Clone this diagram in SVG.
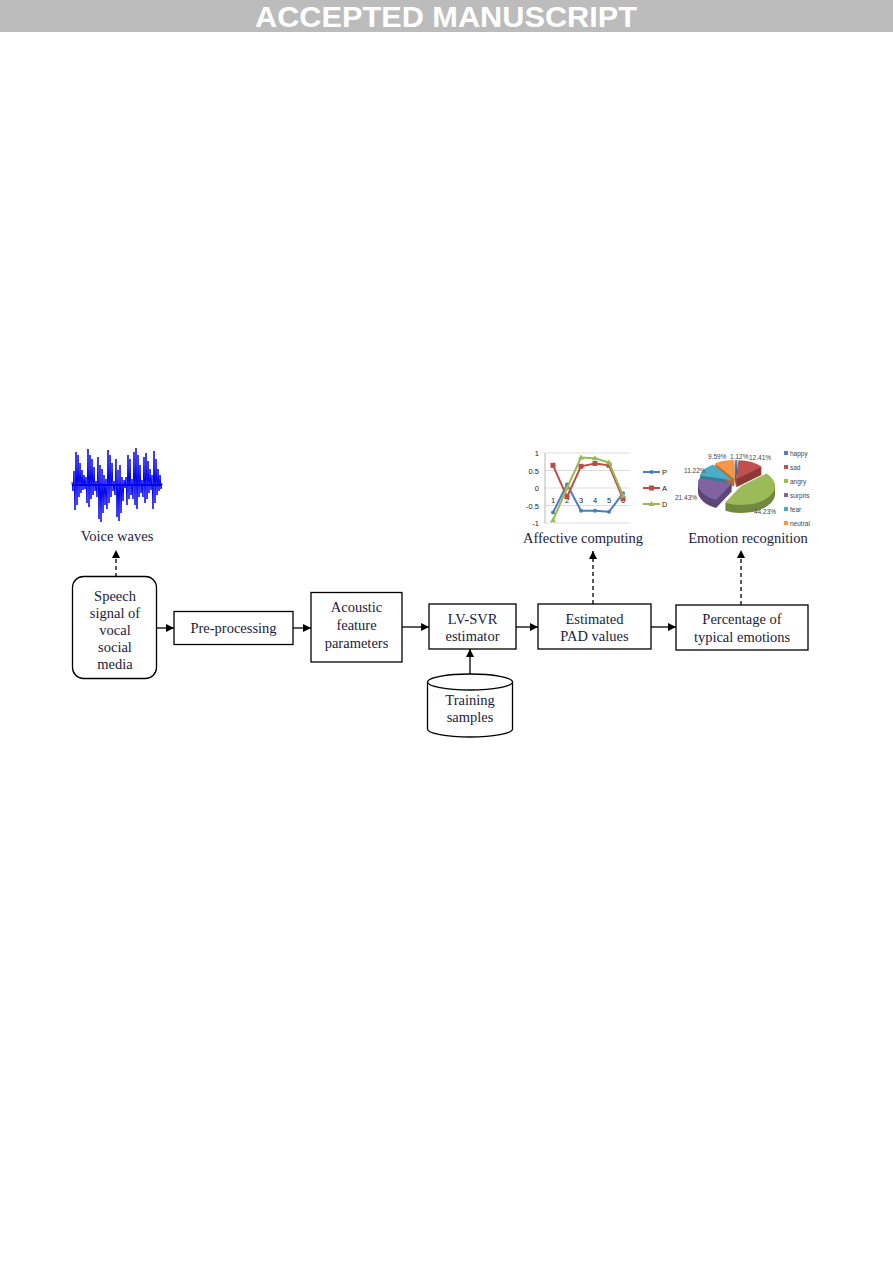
<svg xmlns="http://www.w3.org/2000/svg" xmlns:xlink="http://www.w3.org/1999/xlink" width="893" height="1263" viewBox="0 0 893 1263">
<style>
.t{font-family:"Liberation Serif","Times New Roman",serif;font-size:14.5px;fill:#1c1c3c;text-anchor:middle}
.box{fill:#fff;stroke:#000;stroke-width:1.3}
.c{stroke:#000;stroke-width:1.3;fill:none}
.d{stroke:#000;stroke-width:1.3;fill:none;stroke-dasharray:4,3}
.ax{font-family:"Liberation Sans",Arial,sans-serif;font-size:7.5px;fill:#222}
.pl{font-family:"Liberation Sans",Arial,sans-serif;font-size:6.5px;fill:#444}
.grid{stroke:#cfcfcf;stroke-width:0.7}
</style>
<defs>
<marker id="ah" viewBox="0 0 10 10" refX="10" refY="5" markerWidth="8" markerHeight="8" markerUnits="userSpaceOnUse" orient="auto">
<path d="M0,0 L10,5 L0,10 z" fill="#000"/>
</marker>
<path id="sHappy" d="M735.1,475 L735.1,456 A34,19 0 0 1 737.47,456.05 Z"/>
<path id="sSad" d="M736.3,475.3 L738.67,456.35 A34,19 0 0 1 761.84,462.76 Z"/>
<path id="sAngry" d="M741,482 L766.54,469.46 A34,19 0 0 1 725.04,498.78 Z"/>
<path id="sSurp" d="M732,479.3 L716.04,496.08 A34,19 0 0 1 699.16,474.38 Z"/>
<path id="sFear" d="M732.5,476.3 L699.66,471.38 A34,19 0 0 1 713.29,460.62 Z"/>
<path id="sNeut" d="M734.1,475.1 L714.89,459.42 A34,19 0 0 1 734.1,456.1 Z"/>
</defs>

<rect x="0" y="0" width="893" height="32" fill="#bcbcbc"/>
<text x="446" y="27" font-family="Liberation Sans, Arial, sans-serif" font-weight="bold" font-size="29" fill="#fff" text-anchor="middle" textLength="382" lengthAdjust="spacingAndGlyphs">ACCEPTED MANUSCRIPT</text>

<g id="voice-waves">
<line x1="72" y1="485" x2="162" y2="485" stroke="#0000ee" stroke-width="2"/>
<polyline fill="none" stroke="#0000ee" stroke-width="1" points="72,482 73,491 74,471 75,510 76,452 77,505 78,455 79,497 80,463 81,493 82,470 83,490 84,475 85,489 86,477 87,503 88,449 89,507 90,455 91,499 92,459 93,495 94,467 95,491 96,481 97,497 98,457 99,519 100,465 101,522 102,469 103,513 104,475 105,505 106,479 107,509 108,450 109,503 110,455 111,497 112,463 113,491 114,481 115,495 116,459 117,517 118,470 119,521 120,465 121,513 122,477 123,501 124,480 125,488 126,477 127,505 128,455 129,499 130,459 131,495 132,479 133,499 134,452 135,505 136,448 137,509 138,455 139,497 140,465 141,493 142,480 143,497 144,457 145,503 146,453 147,499 148,461 149,493 150,469 151,490 152,475 153,509 154,451 155,503 156,459 157,495 158,469 159,491 160,475 161,489 162,483"/>
<text class="t" x="117" y="541">Voice waves</text>
</g>

<g id="affective-chart">
<line class="grid" x1="545" y1="453" x2="630" y2="453"/>
<line class="grid" x1="545" y1="470.5" x2="630" y2="470.5"/>
<line class="grid" x1="545" y1="488" x2="630" y2="488"/>
<line class="grid" x1="545" y1="505.5" x2="630" y2="505.5"/>
<line class="grid" x1="545" y1="523" x2="630" y2="523"/>
<line x1="545" y1="453" x2="545" y2="523" stroke="#999" stroke-width="0.7"/>
<text class="ax" x="539" y="456" text-anchor="end">1</text>
<text class="ax" x="539" y="473.5" text-anchor="end">0.5</text>
<text class="ax" x="539" y="491" text-anchor="end">0</text>
<text class="ax" x="539" y="508.5" text-anchor="end">-0.5</text>
<text class="ax" x="539" y="526" text-anchor="end">-1</text>
<text class="ax" x="553" y="503" text-anchor="middle">1</text>
<text class="ax" x="567" y="503" text-anchor="middle">2</text>
<text class="ax" x="581" y="503" text-anchor="middle">3</text>
<text class="ax" x="595" y="503" text-anchor="middle">4</text>
<text class="ax" x="609" y="503" text-anchor="middle">5</text>
<text class="ax" x="623" y="503" text-anchor="middle">6</text>
<polyline fill="none" stroke="#4a7ebb" stroke-width="2" points="553,512.5 567,484.5 581,510.8 595,510.8 609,511.8 623,493.3"/>
<g fill="#4a7ebb"><circle cx="553" cy="512.5" r="2"/><circle cx="567" cy="484.5" r="2"/><circle cx="581" cy="510.8" r="2"/><circle cx="595" cy="510.8" r="2"/><circle cx="609" cy="511.8" r="2"/><circle cx="623" cy="493.3" r="2"/></g>
<polyline fill="none" stroke="#be4b48" stroke-width="2" points="553,465.3 567,496.8 581,466.3 595,463.5 609,465.3 623,498.5"/>
<g fill="#be4b48"><rect x="550.5" y="462.8" width="5" height="5"/><rect x="564.5" y="494.3" width="5" height="5"/><rect x="578.5" y="463.8" width="5" height="5"/><rect x="592.5" y="461" width="5" height="5"/><rect x="606.5" y="462.8" width="5" height="5"/><rect x="620.5" y="496" width="5" height="5"/></g>
<polyline fill="none" stroke="#98b954" stroke-width="2" points="553,520.2 567,488 581,457.6 595,458.3 609,462.5 623,495.7"/>
<g fill="#98b954"><path d="M553,517.2 l3,5 h-6z"/><path d="M567,485 l3,5 h-6z"/><path d="M581,454.6 l3,5 h-6z"/><path d="M595,455.3 l3,5 h-6z"/><path d="M609,459.5 l3,5 h-6z"/><path d="M623,492.7 l3,5 h-6z"/></g>
<line x1="643" y1="472" x2="660" y2="472" stroke="#4a7ebb" stroke-width="2"/><circle cx="651.5" cy="472" r="2" fill="#4a7ebb"/>
<text class="ax" x="662" y="475">P</text>
<line x1="643" y1="488" x2="660" y2="488" stroke="#be4b48" stroke-width="2"/><rect x="649" y="485.5" width="5" height="5" fill="#be4b48"/>
<text class="ax" x="662" y="491">A</text>
<line x1="643" y1="504" x2="660" y2="504" stroke="#98b954" stroke-width="2"/><path d="M651.5,501 l3,5 h-6z" fill="#98b954"/>
<text class="ax" x="662" y="507">D</text>
<text class="t" x="583" y="543">Affective computing</text>
</g>

<g id="emotion-pie">
<g transform="translate(0,4)">
<g fill="#385d8a"><use xlink:href="#sHappy" y="2"/><use xlink:href="#sHappy" y="4"/><use xlink:href="#sHappy" y="6"/><use xlink:href="#sHappy" y="8"/></g>
<g fill="#8c3836"><use xlink:href="#sSad" y="1"/><use xlink:href="#sSad" y="2"/><use xlink:href="#sSad" y="3"/><use xlink:href="#sSad" y="4"/><use xlink:href="#sSad" y="5"/><use xlink:href="#sSad" y="6"/><use xlink:href="#sSad" y="7"/><use xlink:href="#sSad" y="8"/></g>
<g fill="#357d91"><use xlink:href="#sFear" y="1"/><use xlink:href="#sFear" y="2"/><use xlink:href="#sFear" y="3"/><use xlink:href="#sFear" y="4"/><use xlink:href="#sFear" y="5"/><use xlink:href="#sFear" y="6"/><use xlink:href="#sFear" y="7"/><use xlink:href="#sFear" y="8"/></g>
<g fill="#b66d31"><use xlink:href="#sNeut" y="1"/><use xlink:href="#sNeut" y="2"/><use xlink:href="#sNeut" y="3"/><use xlink:href="#sNeut" y="4"/><use xlink:href="#sNeut" y="5"/><use xlink:href="#sNeut" y="6"/><use xlink:href="#sNeut" y="7"/><use xlink:href="#sNeut" y="8"/></g>
<g fill="#5c4776"><use xlink:href="#sSurp" y="1"/><use xlink:href="#sSurp" y="2"/><use xlink:href="#sSurp" y="3"/><use xlink:href="#sSurp" y="4"/><use xlink:href="#sSurp" y="5"/><use xlink:href="#sSurp" y="6"/><use xlink:href="#sSurp" y="7"/><use xlink:href="#sSurp" y="8"/></g>
<g fill="#71893f"><use xlink:href="#sAngry" y="1"/><use xlink:href="#sAngry" y="2"/><use xlink:href="#sAngry" y="3"/><use xlink:href="#sAngry" y="4"/><use xlink:href="#sAngry" y="5"/><use xlink:href="#sAngry" y="6"/><use xlink:href="#sAngry" y="7"/><use xlink:href="#sAngry" y="8"/></g>
<use xlink:href="#sHappy" fill="#4f81bd"/>
<use xlink:href="#sSad" fill="#c0504d"/>
<use xlink:href="#sFear" fill="#4bacc6"/>
<use xlink:href="#sNeut" fill="#f79646"/>
<use xlink:href="#sSurp" fill="#8064a2"/>
<use xlink:href="#sAngry" fill="#9bbb59"/>
</g>
<text class="pl" x="708" y="459">9.59%</text>
<text class="pl" x="730" y="459">1.12%</text>
<text class="pl" x="749" y="460">12.41%</text>
<text class="pl" x="684" y="473">11.22%</text>
<text class="pl" x="675" y="500">21.43%</text>
<text class="pl" x="754" y="514">44.23%</text>
<rect x="784" y="451" width="4" height="4" fill="#4f81bd"/><text class="pl" x="790" y="455.5">happy</text>
<rect x="784" y="465" width="4" height="4" fill="#c0504d"/><text class="pl" x="790" y="469.5">sad</text>
<rect x="784" y="479" width="4" height="4" fill="#9bbb59"/><text class="pl" x="790" y="483.5">angry</text>
<rect x="784" y="493" width="4" height="4" fill="#8064a2"/><text class="pl" x="790" y="497.5">surpris</text>
<rect x="784" y="507" width="4" height="4" fill="#4bacc6"/><text class="pl" x="790" y="511.5">fear</text>
<rect x="784" y="521" width="4" height="4" fill="#f79646"/><text class="pl" x="790" y="525.5">neutral</text>
<text class="t" x="748" y="543">Emotion recognition</text>
</g>

<g id="connectors">
<line class="d" x1="116" y1="577" x2="116" y2="550" marker-end="url(#ah)"/>
<line class="d" x1="593" y1="604" x2="593" y2="551" marker-end="url(#ah)"/>
<line class="d" x1="741" y1="605" x2="741" y2="550" marker-end="url(#ah)"/>
<line class="c" x1="157" y1="628" x2="174" y2="628" marker-end="url(#ah)"/>
<line class="c" x1="293" y1="628" x2="311" y2="628" marker-end="url(#ah)"/>
<line class="c" x1="402" y1="627" x2="429" y2="627" marker-end="url(#ah)"/>
<line class="c" x1="516" y1="627" x2="538" y2="627" marker-end="url(#ah)"/>
<line class="c" x1="651" y1="627" x2="676" y2="627" marker-end="url(#ah)"/>
<line class="c" x1="470" y1="674" x2="470" y2="649" marker-end="url(#ah)"/>
</g>

<g id="speech-signal">
<rect class="box" x="72.5" y="576.5" width="84" height="102" rx="11"/>
<text class="t" x="115" y="601">Speech</text>
<text class="t" x="115" y="618">signal of</text>
<text class="t" x="115" y="635">vocal</text>
<text class="t" x="115" y="652">social</text>
<text class="t" x="115" y="669">media</text>
</g>
<g id="pre-processing">
<rect class="box" x="174" y="611.5" width="119" height="33"/>
<text class="t" x="233.5" y="633">Pre-processing</text>
</g>
<g id="acoustic-features">
<rect class="box" x="311" y="592.5" width="91" height="69.5"/>
<text class="t" x="356.5" y="612">Acoustic</text>
<text class="t" x="356.5" y="630">feature</text>
<text class="t" x="356.5" y="648">parameters</text>
</g>
<g id="lv-svr">
<rect class="box" x="429" y="604" width="87" height="45"/>
<text class="t" x="472.5" y="624">LV-SVR</text>
<text class="t" x="472.5" y="641">estimator</text>
</g>
<g id="estimated-pad">
<rect class="box" x="538" y="604" width="113" height="45"/>
<text class="t" x="594.5" y="624">Estimated</text>
<text class="t" x="594.5" y="641">PAD values</text>
</g>
<g id="percentage-emotions">
<rect class="box" x="676" y="605" width="132" height="45"/>
<text class="t" x="742" y="624">Percentage of</text>
<text class="t" x="742" y="642">typical emotions</text>
</g>
<g id="training-samples">
<path class="box" d="M427.5,682 L427.5,729 A42.5,8 0 0 0 512.5,729 L512.5,682"/>
<ellipse class="box" cx="470" cy="682" rx="42.5" ry="8"/>
<text class="t" x="470" y="705">Training</text>
<text class="t" x="470" y="722">samples</text>
</g>
</svg>
